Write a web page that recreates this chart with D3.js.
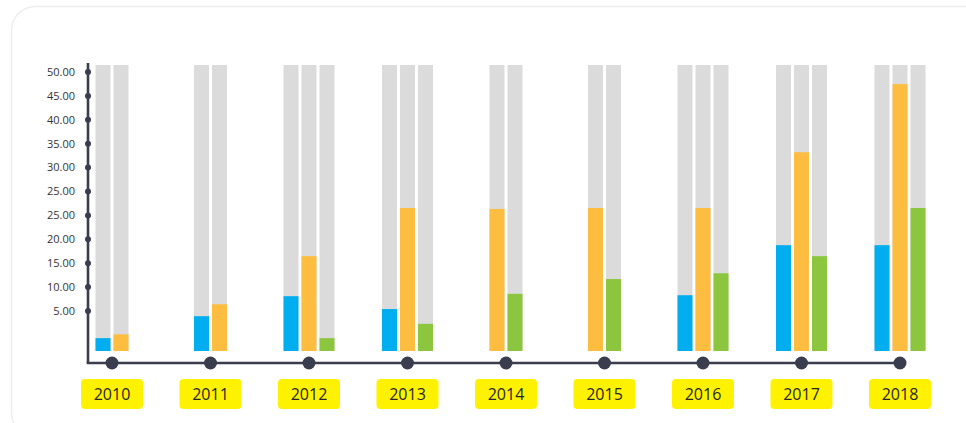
<!DOCTYPE html>
<html>
<head>
<meta charset="utf-8">
<script src="https://cdn.jsdelivr.net/npm/d3@7"></script>
<style>
  html, body { margin: 0; padding: 0; background: #ffffff; }
  svg { display: block; }
</style>
</head>
<body>
<svg id="chart" width="966" height="423"></svg>
<script>
const years = ["2010", "2011", "2012", "2013", "2014", "2015", "2016", "2017", "2018"];
const blueValues = [2.7, 7.3, 11.5, 8.8, null, null, 11.7, 22.2, 22.2];
const orangeValues = [3.5, 9.8, 19.9, 30.0, 29.8, 30.0, 30.0, 41.7, 56.0];
const greenValues = [null, null, 2.7, 5.7, 12.0, 15.1, 16.3, 19.9, 30.0];
const trackMax = 60;
const tickLabels = ["50.00", "45.00", "40.00", "35.00", "30.00", "25.00", "25.00", "20.00", "15.00", "10.00", "5.00"];

const seriesList = [
  { name: "blue", values: blueValues, color: "#00aeef" },
  { name: "orange", values: orangeValues, color: "#fcbd41" },
  { name: "green", values: greenValues, color: "#8cc63f" }
];

const svg = d3.select("#chart");
const axisColor = "#3a3d4e";
const font = "'Open Sans', 'Noto Sans', sans-serif";

// card
svg.append("rect")
  .attr("x", 11.5).attr("y", 6.5)
  .attr("width", 980).attr("height", 430)
  .attr("rx", 24)
  .attr("fill", "#ffffff")
  .attr("stroke", "#ededed")
  .attr("stroke-width", 1.5);

const x = d3.scalePoint().domain(years).range([112, 900]);
const y = d3.scaleLinear().domain([0, trackMax]).range([351, 65]);
const yTicks = d3.scalePoint().domain(d3.range(tickLabels.length)).range([72, 311]);

const barW = 15, pitch = 18;
const axisX = 88, axisY = 363;

// bars
years.forEach((yr, i) => {
  const present = seriesList.filter(s => s.values[i] !== null);
  const n = present.length;
  const g = svg.append("g");
  present.forEach((s, j) => {
    const bx = x(yr) - (n * pitch - (pitch - barW)) / 2 + j * pitch;
    g.append("rect")
      .attr("x", bx).attr("y", y(trackMax))
      .attr("width", barW).attr("height", y(0) - y(trackMax))
      .attr("fill", "#dbdbdb");
    g.append("rect")
      .attr("x", bx).attr("y", y(s.values[i]))
      .attr("width", barW).attr("height", y(0) - y(s.values[i]))
      .attr("fill", s.color);
  });
});

// axes lines
svg.append("line")
  .attr("x1", axisX).attr("x2", axisX)
  .attr("y1", 63).attr("y2", axisY)
  .attr("stroke", axisColor).attr("stroke-width", 2.6);
svg.append("line")
  .attr("x1", axisX - 1.3).attr("x2", x(years[years.length - 1]))
  .attr("y1", axisY).attr("y2", axisY)
  .attr("stroke", axisColor).attr("stroke-width", 2.6);

// y tick dots + labels
tickLabels.forEach((lab, i) => {
  svg.append("circle")
    .attr("cx", axisX).attr("cy", yTicks(i)).attr("r", 3)
    .attr("fill", axisColor);
  svg.append("text")
    .attr("x", 75).attr("y", yTicks(i))
    .attr("dy", "0.35em")
    .attr("text-anchor", "end")
    .attr("font-family", font)
    .attr("font-size", 11)
    .attr("fill", "#333333")
    .text(lab);
});

// x dots + labels
years.forEach(yr => {
  svg.append("circle")
    .attr("cx", x(yr)).attr("cy", axisY).attr("r", 6.5)
    .attr("fill", axisColor);
  svg.append("rect")
    .attr("x", x(yr) - 31).attr("y", 379)
    .attr("width", 62).attr("height", 30)
    .attr("rx", 4)
    .attr("fill", "#fff200");
  svg.append("text")
    .attr("x", x(yr)).attr("y", 394)
    .attr("dy", "0.36em")
    .attr("text-anchor", "middle")
    .attr("font-family", font)
    .attr("font-size", 16)
    .attr("fill", "#262626")
    .text(yr);
});
</script>
</body>
</html>
